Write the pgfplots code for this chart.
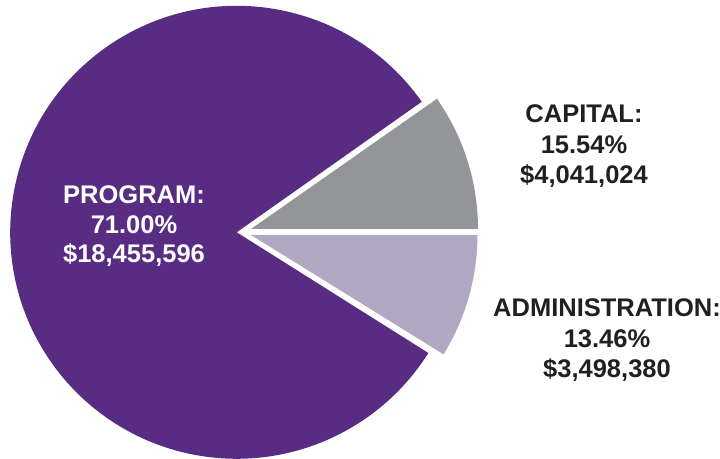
\documentclass[border=0pt]{standalone}
\usepackage{pgfplots}
\pgfplotsset{compat=1.18}
\usepackage{fontspec}
\setmainfont{Liberation Sans}

\definecolor{progpurple}{HTML}{582C83}
\definecolor{capgray}{HTML}{939598}
\definecolor{adminlav}{HTML}{B0A7C3}
\definecolor{labeldark}{HTML}{231F20}

% slices as drawn: vertex x, vertex y, start angle, end angle, radius
% PROGRAM 71.00% $18,455,596 | CAPITAL 15.54% $4,041,024 | ADMINISTRATION 13.46% $3,498,380

\begin{document}
\begin{tikzpicture}
\begin{axis}[
    hide axis,
    scale only axis,
    width=720bp, height=459bp,
    xmin=0, xmax=720, ymin=0, ymax=459,
    enlargelimits=false,
    clip=false,
    at={(0,0)}, anchor=south west,
]
% program
\fill[progpurple] (axis cs:236.7,226.7) -- ++(35.2:226.5bp)
    arc[start angle=35.2, end angle=327.8, radius=226.5bp] -- cycle;
% capital (pulled out)
\fill[capgray] (axis cs:251,230) -- ++(0:227bp)
    arc[start angle=0, end angle=35.0, radius=227bp] -- cycle;
% administration (pulled out)
\fill[adminlav] (axis cs:251,224) -- ++(-31.8:226.5bp)
    arc[start angle=-31.8, end angle=0, radius=226.5bp] -- cycle;

\tikzset{lbl/.style={anchor=base, inner sep=0pt, font=\fontsize{25.5bp}{30bp}\selectfont\bfseries}}
\node[lbl, text=white] at (axis cs:134,255) {PROGRAM:};
\node[lbl, text=white] at (axis cs:134,225) {71.00\%};
\node[lbl, text=white] at (axis cs:134,196) {\$18,455,596};

\node[lbl, text=labeldark] at (axis cs:584,336) {CAPITAL:};
\node[lbl, text=labeldark] at (axis cs:584,305) {15.54\%};
\node[lbl, text=labeldark] at (axis cs:584,275) {\$4,041,024};

\node[lbl, text=labeldark] at (axis cs:607,142) {ADMINISTRATION:};
\node[lbl, text=labeldark] at (axis cs:607,111) {13.46\%};
\node[lbl, text=labeldark] at (axis cs:607,81) {\$3,498,380};
\end{axis}
\pgfresetboundingbox
\path[use as bounding box] (0,0) rectangle (720bp,459bp);
\end{tikzpicture}
\end{document}
